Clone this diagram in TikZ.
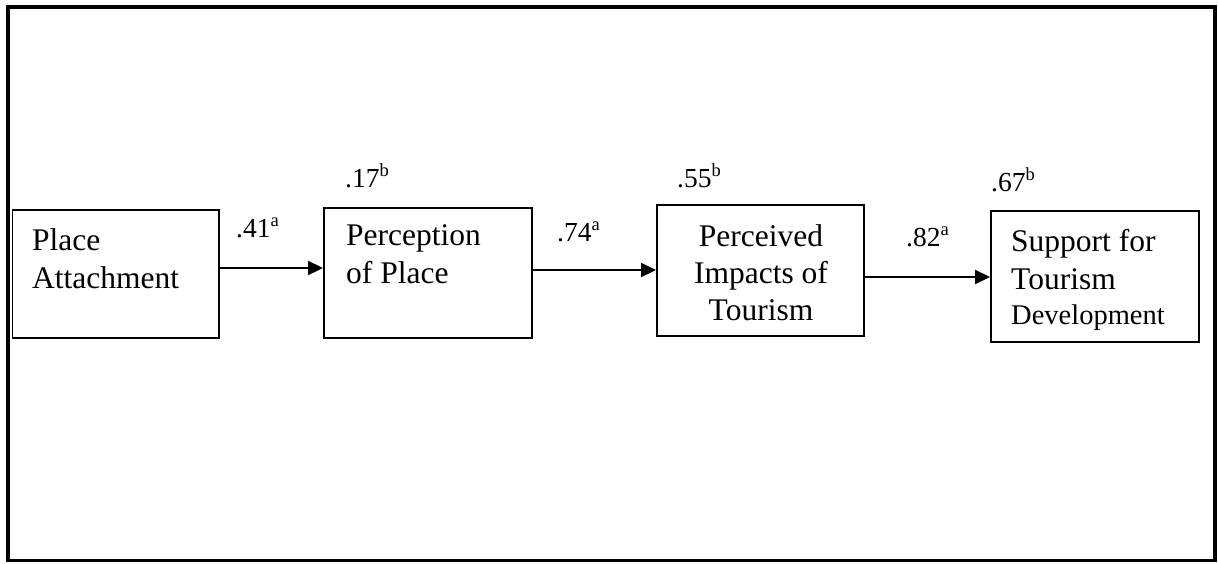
\documentclass[tikz,border=0pt]{standalone}
\usepackage{fontspec}
\setmainfont{Liberation Serif}
\usetikzlibrary{arrows.meta}
\newcommand\supx[1]{\raisebox{10.5pt}{\fontsize{18.5}{18.5}\selectfont #1}}
\begin{document}
\begin{tikzpicture}[x=1pt,y=-1pt,
  boxnode/.style={draw,line width=1.9pt,inner sep=0pt},
  boxtext/.style={inner sep=0pt,font=\fontsize{31.5}{38}\selectfont},
  coef/.style={inner sep=0pt,anchor=base west,font=\fontsize{27.5}{30}\selectfont},
  arr/.style={line width=1.9pt,-{Triangle[length=15pt,width=14pt]}}]
\useasboundingbox (0,0) rectangle (1218,563);
\node[draw,line width=3.5pt,inner sep=0pt,minimum width=1207pt,minimum height=553.5pt] (frame) at (611.5,283.75) {};
% boxes
\node[boxnode,minimum width=206.5pt,minimum height=128pt] (b1) at (115.75,274) {};
\node[boxnode,minimum width=208pt,minimum height=130pt] (b2) at (428,273) {};
\node[boxnode,minimum width=207pt,minimum height=131pt] (b3) at (760.5,270.5) {};
\node[boxnode,minimum width=208pt,minimum height=131pt] (b4) at (1095,276.5) {};
% box texts
\node[boxtext,anchor=north west,align=left] (t1) at (32,228) {Place\\Attachment};
\node[boxtext,anchor=north west,align=left] (t2) at (346,224) {Perception\\of Place};
\node[boxtext,anchor=north,align=center,font=\fontsize{31.5}{37}\selectfont] (t3) at (761,224) {Perceived\\Impacts of\\Tourism};
\node[boxtext,anchor=north west,align=left] (t4) at (1011,229) {Support for\\Tourism\\[-3pt]{\fontsize{28.5}{34}\selectfont Development}};
% coefficients
\node[coef] (l1) at (236,237) {.41\supx{a}};
\node[coef] (l2) at (345,187) {.17\supx{b}};
\node[coef] (l3) at (557,241) {.74\supx{a}};
\node[coef] (l4) at (677,187) {.55\supx{b}};
\node[coef] (l5) at (906,246) {.82\supx{a}};
\node[coef] (l6) at (991,191) {.67\supx{b}};
% arrows
\draw[arr] ([yshift=6pt]b1.east) -- ([yshift=6pt]b1.east -| b2.west);
\draw[arr] ([yshift=3pt]b2.east) -- ([yshift=3pt]b2.east -| b3.west);
\draw[arr] ([yshift=-6.5pt]b3.east) -- ([yshift=-6.5pt]b3.east -| b4.west);
\end{tikzpicture}
\end{document}
